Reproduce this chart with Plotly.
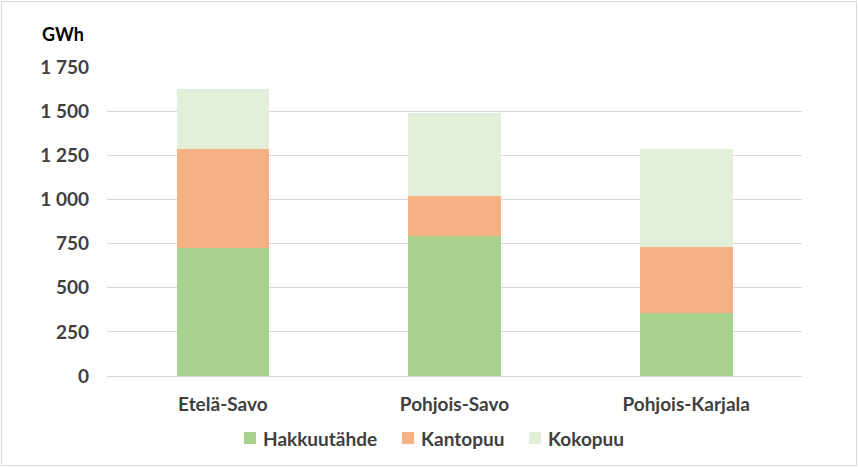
import plotly.graph_objects as go

categories = ["Etelä-Savo", "Pohjois-Savo", "Pohjois-Karjala"]
hakkuutahde = [727, 794, 357]
kantopuu = [556, 226, 373]
kokopuu = [344, 471, 557]
series_names = ["Hakkuutähde", "Kantopuu", "Kokopuu"]
colors = ["#A9D18E", "#F4B183", "#E2F0D9"]
tick_vals = [0, 250, 500, 750, 1000, 1250, 1500, 1750]

FONT = "Lato"
TXT = "#404040"

fig = go.Figure()
for name, vals, c in zip(series_names, [hakkuutahde, kantopuu, kokopuu], colors):
    fig.add_trace(go.Bar(x=categories, y=vals, name=name, showlegend=False,
                         marker=dict(color=c, line=dict(width=0)), width=0.4))

L, R, T, B = 107, 56, 67, 91
W, H = 858, 467
pw, ph = W - L - R, H - T - B

def px_x(x):
    return (x - L) / pw

def px_y(y):
    return (H - B - y) / ph

# legend built from series names/colours
legend_sq = [244, 402, 529]
annotations = [dict(text="GWh", xref="paper", yref="paper",
                    x=px_x(40), y=px_y(34), xanchor="left", yanchor="middle",
                    showarrow=False, font=dict(family=FONT, size=18, color="#000000", weight=700))]
shapes = [dict(type="rect", xref="paper", yref="paper",
               x0=px_x(1.5), x1=px_x(856.5), y0=px_y(465.5), y1=px_y(1.5),
               line=dict(color="#D9D9D9", width=1), fillcolor="rgba(0,0,0,0)", layer="below")]
for name, c, xs in zip(series_names, colors, legend_sq):
    shapes.append(dict(type="rect", xref="paper", yref="paper",
                       x0=px_x(xs), x1=px_x(xs + 12), y0=px_y(444), y1=px_y(432),
                       line=dict(width=0), fillcolor=c))
    annotations.append(dict(
        text=name, xref="paper", yref="paper",
        x=px_x(xs + 17), y=px_y(438), xanchor="left", yanchor="middle", showarrow=False,
        font=dict(family=FONT, size=19, color=TXT, weight=700)))

fig.update_layout(
    barmode="stack",
    width=W, height=H,
    margin=dict(l=L, r=R, t=T, b=B, autoexpand=False),
    paper_bgcolor="white", plot_bgcolor="white",
    separators=", ",
    font=dict(family=FONT, size=16, color=TXT, weight=700),
    showlegend=False,
    xaxis=dict(showgrid=False, showline=False, ticks="", ticklabelstandoff=15,
               tickfont=dict(family=FONT, size=19, color=TXT, weight=700)),
    yaxis=dict(range=[0, 1750], tickvals=tick_vals, tickformat=",d",
               showgrid=True, gridcolor="#D9D9D9", gridwidth=1,
               zeroline=True, zerolinecolor="#D9D9D9", zerolinewidth=1,
               showline=False, ticks="", ticklabelstandoff=17,
               tickfont=dict(family=FONT, size=19, color=TXT, weight=700)),
    annotations=annotations,
    shapes=shapes,
)

fig.write_html("out.html")
